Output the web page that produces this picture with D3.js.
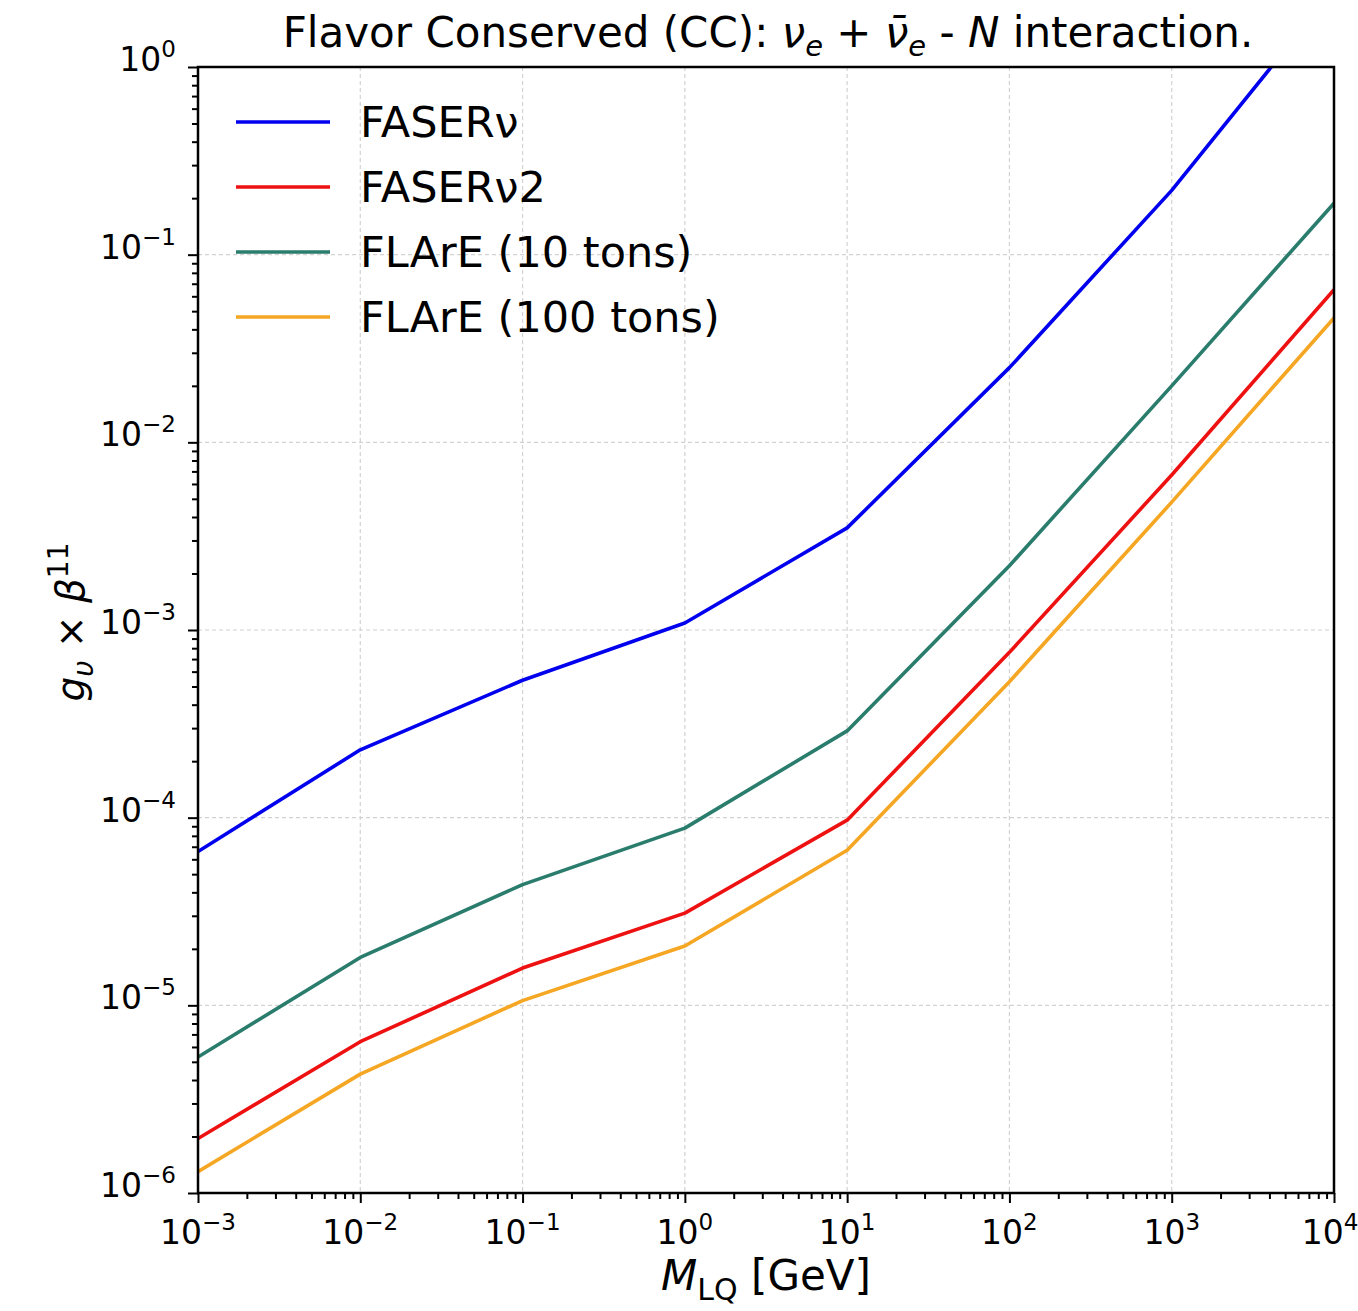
<!DOCTYPE html>
<html>
<head>
<meta charset="utf-8">
<script src="https://cdn.jsdelivr.net/npm/d3@7"></script>
<style>
  body { margin: 0; background: #fff; }
  svg { font-family: "DejaVu Sans", sans-serif; }
</style>
</head>
<body>
<div id="chart"></div>
<script>
// leptoquark mass points [GeV]
const masses = [1e-3, 1e-2, 1e-1, 1e0, 1e1, 1e2, 1e3, 1e4];

// coupling limits per detector
const faserNu = [6.6e-5, 2.3e-4, 5.4e-4, 1.09e-3, 3.5e-3, 2.5e-2, 2.2e-1, 2.6];
const faserNu2 = [1.95e-6, 6.4e-6, 1.58e-5, 3.1e-5, 9.7e-5, 7.6e-4, 6.7e-3, 6.5e-2];
const flare10 = [5.3e-6, 1.8e-5, 4.4e-5, 8.8e-5, 2.9e-4, 2.2e-3, 2.0e-2, 1.88e-1];
const flare100 = [1.3e-6, 4.3e-6, 1.06e-5, 2.07e-5, 6.7e-5, 5.3e-4, 4.8e-3, 4.6e-2];

const seriesNames = ["FASERν", "FASERν2", "FLArE (10 tons)", "FLArE (100 tons)"];
const seriesValues = [faserNu, faserNu2, flare10, flare100];
const seriesColors = ["#0000ee", "#ee1111", "#2a7d6d", "#f5a623"];

const xTickExps = [-3, -2, -1, 0, 1, 2, 3, 4];
const yTickExps = [-6, -5, -4, -3, -2, -1, 0];

const width = 1358, height = 1311;
const margin = {top: 67, right: 24, bottom: 118, left: 198};
const innerW = width - margin.left - margin.right;
const innerH = height - margin.top - margin.bottom;

const svg = d3.select("#chart").append("svg")
    .attr("width", width)
    .attr("height", height);

const x = d3.scaleLog().domain([1e-3, 1e4]).range([0, innerW]);
const y = d3.scaleLog().domain([1e-6, 1]).range([innerH, 0]);

const g = svg.append("g").attr("transform", `translate(${margin.left},${margin.top})`);

// minor tick values
const minor = (lo, hi) => {
    let out = [];
    for (let e = lo; e < hi; e++) {
        for (let k = 2; k <= 9; k++) out.push(k * Math.pow(10, e));
    }
    return out;
};

// grid
g.append("g").selectAll("line")
    .data(xTickExps.slice(1, -1))
    .enter().append("line")
    .attr("x1", d => x(Math.pow(10, d))).attr("x2", d => x(Math.pow(10, d)))
    .attr("y1", 0).attr("y2", innerH)
    .attr("stroke", "#d2d2d2").attr("stroke-width", 1.2)
    .attr("stroke-dasharray", "4,3");
g.append("g").selectAll("line")
    .data(yTickExps.slice(1, -1))
    .enter().append("line")
    .attr("y1", d => y(Math.pow(10, d))).attr("y2", d => y(Math.pow(10, d)))
    .attr("x1", 0).attr("x2", innerW)
    .attr("stroke", "#d2d2d2").attr("stroke-width", 1.2)
    .attr("stroke-dasharray", "4,3");

// lines
g.append("clipPath").attr("id", "clip")
    .append("rect").attr("width", innerW).attr("height", innerH);

const line = d3.line()
    .x((d, i) => x(masses[i]))
    .y(d => y(d));

g.append("g").attr("clip-path", "url(#clip)")
    .selectAll("path")
    .data(seriesValues)
    .enter().append("path")
    .attr("d", line)
    .attr("fill", "none")
    .attr("stroke", (d, i) => seriesColors[i])
    .attr("stroke-width", 3.6)
    .attr("stroke-linejoin", "round");

// axes
const xAxis = g.append("g").attr("transform", `translate(0,${innerH})`)
    .call(d3.axisBottom(x).tickValues(xTickExps.map(e => Math.pow(10, e))).tickFormat("").tickSize(10));
const xMinor = g.append("g").attr("transform", `translate(0,${innerH})`)
    .call(d3.axisBottom(x).tickValues(minor(-3, 4)).tickFormat("").tickSize(6));
const yAxis = g.append("g")
    .call(d3.axisLeft(y).tickValues(yTickExps.map(e => Math.pow(10, e))).tickFormat("").tickSize(10));
const yMinor = g.append("g")
    .call(d3.axisLeft(y).tickValues(minor(-6, 0)).tickFormat("").tickSize(6));

[xAxis, xMinor, yAxis, yMinor].forEach(a => {
    a.select(".domain").remove();
    a.selectAll("line").attr("stroke", "#000").attr("stroke-width", 2);
});

// frame
g.append("rect").attr("width", innerW).attr("height", innerH)
    .attr("fill", "none").attr("stroke", "#000").attr("stroke-width", 2.5);

// tick labels
const xl = g.append("g").selectAll("text")
    .data(xTickExps).enter().append("text")
    .attr("x", d => x(Math.pow(10, d)) - (d === 4 ? 4 : 0))
    .attr("y", innerH + 51)
    .attr("text-anchor", "middle")
    .attr("font-size", 33);
xl.append("tspan").text("10");
xl.append("tspan").attr("dy", -14).attr("font-size", 23)
    .text(d => String(d).replace("-", "−"));

const yl = g.append("g").selectAll("text")
    .data(yTickExps).enter().append("text")
    .attr("x", -22)
    .attr("y", d => y(Math.pow(10, d)) + 4)
    .attr("text-anchor", "end")
    .attr("font-size", 33);
yl.append("tspan").text("10");
yl.append("tspan").attr("dy", -14).attr("font-size", 23)
    .text(d => String(d).replace("-", "−"));

// title
const title = svg.append("text")
    .attr("x", margin.left + innerW / 2 + 2)
    .attr("y", 47)
    .attr("text-anchor", "middle")
    .attr("font-size", 42);
title.append("tspan").text("Flavor Conserved (CC): ");
title.append("tspan").attr("font-style", "italic").text("ν");
title.append("tspan").attr("font-style", "italic").attr("font-size", 29).attr("dy", 9).text("e");
title.append("tspan").attr("dy", -9).text(" + ");
title.append("tspan").attr("font-style", "italic").text("ν̄");
title.append("tspan").attr("font-style", "italic").attr("font-size", 29).attr("dy", 9).text("e");
title.append("tspan").attr("dy", -9).text(" - ");
title.append("tspan").attr("font-style", "italic").text("N");
title.append("tspan").text(" interaction.");

// x label
const xlab = svg.append("text")
    .attr("x", margin.left + innerW / 2)
    .attr("y", 1290)
    .attr("text-anchor", "middle")
    .attr("font-size", 42);
xlab.append("tspan").attr("font-style", "italic").text("M");
xlab.append("tspan").attr("font-size", 30).attr("dy", 10).text("LQ");
xlab.append("tspan").attr("dy", -10).text(" [GeV]");

// y label
const ylab = svg.append("text")
    .attr("transform", `translate(84,${margin.top + innerH / 2 - 8}) rotate(-90)`)
    .attr("text-anchor", "middle")
    .attr("font-size", 39);
ylab.append("tspan").attr("font-style", "italic").text("g");
ylab.append("tspan").attr("font-style", "italic").attr("font-size", 28).attr("dy", 9).text("υ");
ylab.append("tspan").attr("dy", -9).text(" × ");
ylab.append("tspan").attr("font-style", "italic").text("β");
ylab.append("tspan").attr("font-size", 28).attr("dy", -16).text("11");

// legend
const legend = g.append("g").attr("transform", "translate(38,55)")
    .selectAll("g").data(seriesNames).enter().append("g")
    .attr("transform", (d, i) => `translate(0,${i * 65})`);
legend.append("line")
    .attr("x1", 0).attr("x2", 94)
    .attr("stroke", (d, i) => seriesColors[i])
    .attr("stroke-width", 3.6);
legend.append("text")
    .attr("x", 124).attr("y", 15)
    .attr("font-size", 43)
    .text(d => d);
</script>
</body>
</html>
